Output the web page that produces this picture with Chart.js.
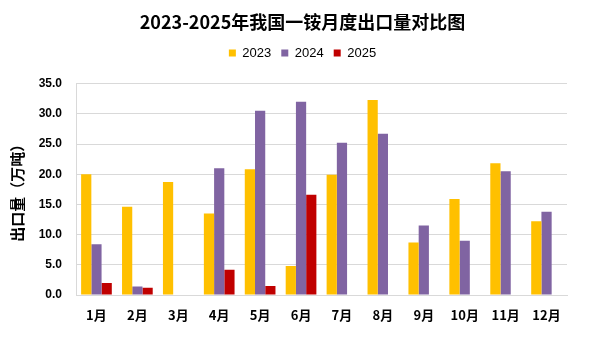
<!DOCTYPE html>
<html>
<head>
<meta charset="utf-8">
<script src="https://cdn.jsdelivr.net/npm/chart.js@4/dist/chart.umd.min.js"></script>
<style>
    html, body { margin: 0; padding: 0; background: #fff; }
    #wrap { width: 605px; height: 339px; }
</style>
</head>
<body>
<div id="wrap"><canvas id="barChart" width="605" height="339"></canvas></div>
<script>
const months = ['1月', '2月', '3月', '4月', '5月', '6月', '7月', '8月', '9月', '10月', '11月', '12月'];
const export2023 = [20.0, 14.6, 18.7, 13.5, 20.8, 4.8, 19.9, 32.3, 8.7, 15.9, 21.8, 12.2];
const export2024 = [8.4, 1.4, null, 21.0, 30.5, 32.0, 25.2, 26.7, 11.5, 9.0, 20.5, 13.8];
const export2025 = [2.0, 1.2, null, 4.2, 1.5, 16.6, null, null, null, null, null, null];

const cjk = '"Noto Sans CJK SC", "Noto Sans", sans-serif';

const data = {
    labels: months,
    datasets: [
        {label: '2023', backgroundColor: '#FFC000', data: export2023},
        {label: '2024', backgroundColor: '#8064A2', data: export2024},
        {label: '2025', backgroundColor: '#C00000', data: export2025},
    ]
};

// empty axes used only as spacers
const spacer = (pos, fit) => ({
    position: pos, display: true,
    ticks: {display: false}, grid: {display: false}, border: {display: false},
    afterFit: fit
});

window.onload = function () {
    let ctx = document.getElementById('barChart').getContext('2d');
    window.barChart = new Chart(ctx, {
        type: 'bar',
        data: data,
        options: {
            responsive: false,
            animation: false,
            layout: {padding: 0},
            datasets: {bar: {categoryPercentage: 0.75, barPercentage: 1.0}},
            plugins: {
                title: {
                    display: true,
                    text: '2023-2025年我国一铵月度出口量对比图',
                    color: '#000',
                    font: {family: cjk, size: 18, weight: 'bold'},
                    padding: {top: 11, bottom: 4}
                },
                legend: {
                    position: 'top',
                    labels: {
                        boxWidth: 7, boxHeight: 7, padding: 10,
                        color: '#000',
                        font: {family: '"Liberation Sans Narrow", "Liberation Sans", sans-serif', size: 13}
                    }
                },
                tooltip: {enabled: false}
            },
            scales: {
                x: {
                    grid: {display: false},
                    border: {color: '#d9d9d9', width: 1},
                    ticks: {color: '#000', font: {family: cjk, size: 13, weight: 'bold'}, padding: 4},
                    afterFit: s => { s.height = 44; }
                },
                xTop: spacer('top', s => { s.height = 14; }),
                y: {
                    min: 0, max: 35,
                    ticks: {
                        stepSize: 5, color: '#000', padding: 14,
                        font: {family: '"Liberation Sans", sans-serif', size: 12, weight: 'bold'},
                        callback: v => v.toFixed(1)
                    },
                    grid: {color: '#d9d9d9', drawTicks: false},
                    border: {color: '#d9d9d9', width: 1},
                    title: {
                        display: true, text: '出口量（万吨）', color: '#000',
                        font: {family: cjk, size: 15, weight: 'bold'}, padding: {top: 8, bottom: 0}
                    },
                    afterFit: s => { s.width = 76; }
                },
                yRight: spacer('right', s => { s.width = 38; })
            }
        }
    });
};
</script>
</body>
</html>
